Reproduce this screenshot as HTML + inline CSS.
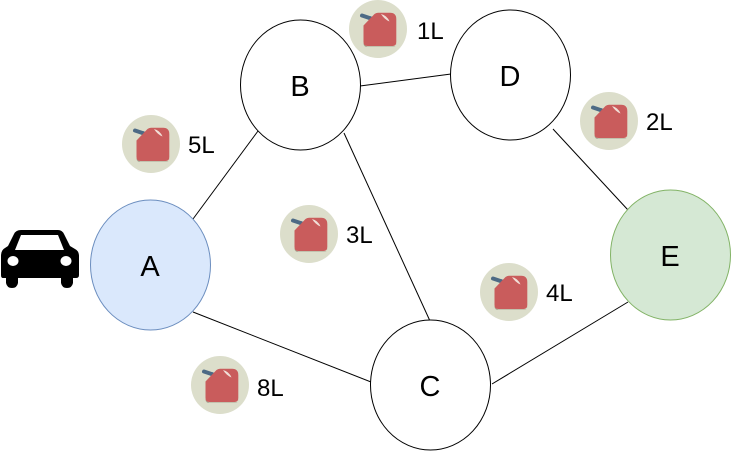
<!DOCTYPE html>
<html>
<head>
<meta charset="utf-8">
<style>
html,body{margin:0;padding:0;background:#fff;}
svg{display:block;}
text{font-family:"Liberation Sans",sans-serif;fill:#000;}
</style>
</head>
<body>
<svg width="731" height="451" viewBox="0 0 731 451" xmlns="http://www.w3.org/2000/svg">
<defs>
<g id="can">
<circle cx="0" cy="0" r="29" fill="#dcdecb"/>
<path d="M-16,-13.5 L-7,-10.5" stroke="#4d6a85" stroke-width="4" stroke-linecap="round" fill="none"/>
<path d="M-9,-12 L-5,-6" stroke="#4d6a85" stroke-width="3.5" fill="none"/>
<path d="M-14.5,14 Q-14.5,18 -11,18 L15,18 Q18.3,18 18.3,14 L18.3,15 Q18.3,17.5 15,17.5 L-11,17.5 Z" fill="#a9a592"/>
<path d="M-14.5,-3.5 L-3.5,-15 Q-2,-16.3 0,-16.3 L12,-16.3 Q18.3,-16.3 18.3,-10 L18.3,13 Q18.3,17 14.5,17 L-10.5,17 Q-14.5,17 -14.5,13 Z" fill="#c95c5c"/>
<path d="M3,-15 Q9,-13.5 11.5,-7.5 Q6.5,-9.5 3,-15 Z" fill="#f1dfd8"/>
</g>
</defs>

<g stroke="#000" stroke-width="1" fill="none">
<line x1="193" y1="219" x2="258" y2="131"/>
<line x1="193" y1="312" x2="371" y2="382"/>
<line x1="360" y1="86" x2="451" y2="74"/>
<line x1="344" y1="133" x2="430" y2="321"/>
<line x1="553" y1="129" x2="628" y2="210"/>
<line x1="492" y1="384" x2="628" y2="302"/>
</g>

<ellipse cx="150.5" cy="265" rx="60" ry="65" fill="#dae8fc" stroke="#6c8ebf" stroke-width="1"/>
<ellipse cx="300.5" cy="85" rx="60" ry="65" fill="#fff" stroke="#000" stroke-width="1"/>
<ellipse cx="510.5" cy="75" rx="60" ry="65" fill="#fff" stroke="#000" stroke-width="1"/>
<ellipse cx="430.5" cy="385" rx="60" ry="65" fill="#fff" stroke="#000" stroke-width="1"/>
<ellipse cx="670.5" cy="255" rx="60" ry="65" fill="#d5e8d4" stroke="#82b366" stroke-width="1"/>

<g font-size="29" text-anchor="middle">
<text x="150" y="276">A</text>
<text x="300" y="96">B</text>
<text x="510" y="86">D</text>
<text x="430" y="396">C</text>
<text x="670" y="266">E</text>
</g>

<use href="#can" x="151" y="144"/>
<use href="#can" x="378" y="29"/>
<use href="#can" x="609" y="121"/>
<use href="#can" x="309" y="234"/>
<use href="#can" x="509" y="292"/>
<use href="#can" x="220" y="385"/>

<g font-size="24">
<text x="188" y="153">5L</text>
<text x="417" y="39">1L</text>
<text x="646" y="130">2L</text>
<text x="346" y="243">3L</text>
<text x="546" y="301">4L</text>
<text x="257" y="396">8L</text>
</g>

<path fill-rule="evenodd" fill="#000" d="M1,256 Q1,250 5,248 L8,246 L14,234 Q16,230 21,230 L58,230 Q62,230 64,234 L70,246 L75,249 Q79,251 79,256 L79,275 Q79,278 76,278 L73,278 L73,283 Q72,288 67,288 Q62,288 61,283 L61,278 L18,278 L18,283 Q17,288 12,288 Q7,288 6,283 L6,278 L3,278 Q1,278 1,275 Z
M21,235 L15,250 L64,250 L58,235 Z
M13,256 A5.5,5 0 1,0 13.01,266 A5.5,5 0 1,0 13,256 Z
M66,256 A5.5,5 0 1,0 66.01,266 A5.5,5 0 1,0 66,256 Z"/>
</svg>
</body>
</html>
